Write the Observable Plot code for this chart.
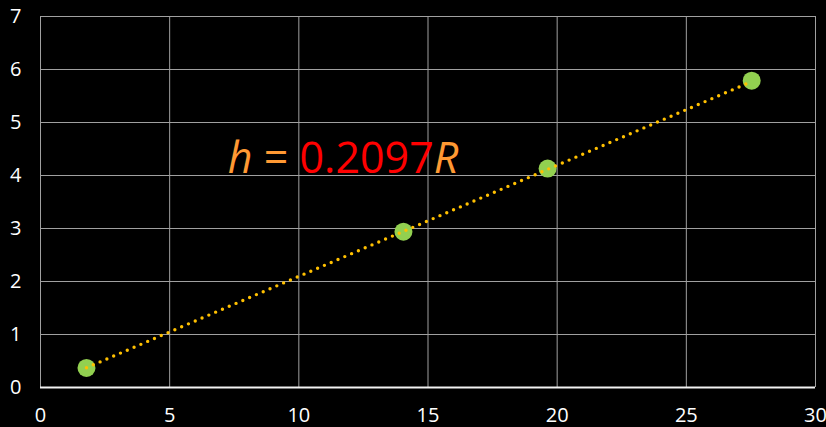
<!DOCTYPE html>
<html><head><meta charset="utf-8">
<script src="https://cdn.jsdelivr.net/npm/d3@7"></script>
<script src="https://cdn.jsdelivr.net/npm/@observablehq/plot@0.6"></script>
<style>html,body{margin:0;padding:0;background:#000;}</style>
</head><body><div id="chart"></div>
<script>
// Data
const radiusR = [1.78, 14.05, 19.63, 27.53];
const heightH = [0.37, 2.94, 4.13, 5.79];
const trendX = [1.78, 27.53];
const trendY = [0.373, 5.773];
const xTicks = [0, 5, 10, 15, 20, 25, 30];
const yTicks = [0, 1, 2, 3, 4, 5, 6, 7];
const eqParts = ["h", " = ", "0.2097", "R"];
const eqX = [7.25];
const eqY = [4.05];

const points = radiusR.map((r, i) => ({r, h: heightH[i]}));
const trend = trendX.map((x, i) => ({x, y: trendY[i]}));
const eqText = eqParts.join("");
const eqData = eqX.map((x, i) => ({x, y: eqY[i], t: eqText}));

const chart = Plot.plot({
  width: 826, height: 427,
  marginLeft: 40, marginRight: 11, marginTop: 16, marginBottom: 40,
  style: {background: "#000", color: "#fff", fontFamily: "'Open Sans', sans-serif", fontSize: "20px"},
  x: {domain: [0, 30], ticks: xTicks, tickFormat: d => String(d), tickSize: 0, tickPadding: 20, label: null},
  y: {domain: [0, 7], ticks: yTicks, tickFormat: d => String(d), tickSize: 0, tickPadding: 19, label: null},
  marks: [
    Plot.gridX(xTicks, {stroke: "#a0a0a0", strokeOpacity: 1}),
    Plot.gridY(yTicks, {stroke: "#a0a0a0", strokeOpacity: 1}),
    Plot.ruleY([0], {stroke: "#f2f2f2", strokeWidth: 2}),
    Plot.dot(points, {x: "r", y: "h", r: 9, fill: "#92D050", stroke: "none"}),
    Plot.line(trend, {x: "x", y: "y", stroke: "#FFC000", strokeWidth: 3.4, strokeDasharray: "0 7.4", strokeLinecap: "round"}),
    Plot.text(eqData, {x: "x", y: "y", text: "t", textAnchor: "start", lineAnchor: "bottom", fontSize: 43, fill: "#FF9933"})
  ]
});
document.getElementById("chart").appendChild(chart);

// Style equation parts as tspans
d3.select(chart).selectAll("text").filter(function() { return this.textContent === eqText; })
  .each(function() {
    const t = d3.select(this);
    t.text(null);
    const styles = [
      {fill: "#FF9933", italic: true},
      {fill: "#FF9933", italic: false},
      {fill: "#FF0000", italic: false},
      {fill: "#FF9933", italic: true}
    ];
    eqParts.forEach((p, i) => {
      t.append("tspan").attr("fill", styles[i].fill)
        .attr("font-style", styles[i].italic ? "italic" : "normal")
        .style("white-space", "pre")
        .text(p);
    });
  });
</script>
</body></html>
